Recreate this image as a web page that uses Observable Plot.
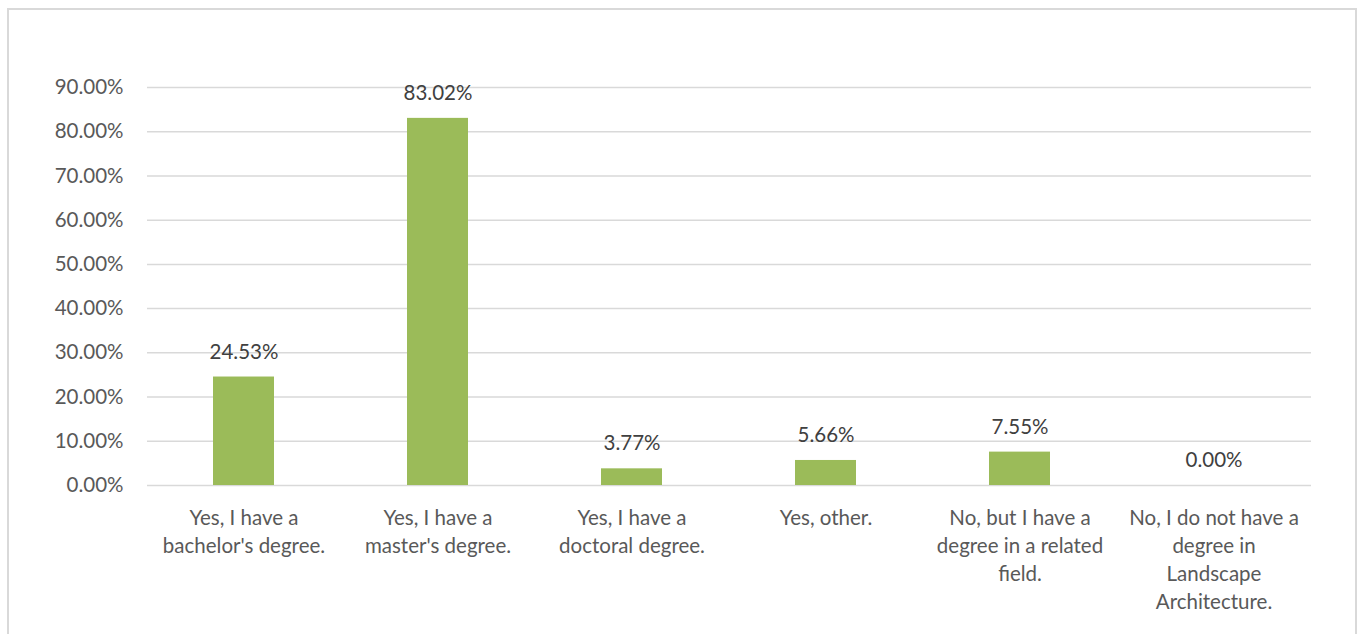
<!DOCTYPE html>
<html><head><meta charset="utf-8">
<script src="https://cdn.jsdelivr.net/npm/d3@7"></script>
<script src="https://cdn.jsdelivr.net/npm/@observablehq/plot@0.6"></script>
<style>
body{margin:0;background:#fff;width:1362px;height:634px;overflow:hidden;position:relative;font-family:Lato,"Open Sans",sans-serif;}
#frame{position:absolute;left:7px;top:8px;width:1350px;height:660px;border:2px solid #d9d9d9;box-sizing:border-box;}
#chart{position:absolute;left:0;top:0;}
</style></head><body>
<div id="frame"></div>
<div id="chart"></div>
<script>
const categories = ["bachelor","master","doctoral","other","related","none"];
const values = [0.2453, 0.8302, 0.0377, 0.0566, 0.0755, 0.0];
const tickLabels = [
  "Yes, I have a\nbachelor's degree.",
  "Yes, I have a\nmaster's degree.",
  "Yes, I have a\ndoctoral degree.",
  "Yes, other.",
  "No, but I have a\ndegree in a related\nfield.",
  "No, I do not have a\ndegree in\nLandscape\nArchitecture."
];
const yTicks = [0,0.1,0.2,0.3,0.4,0.5,0.6,0.7,0.8,0.9];
const data = categories.map((c,i)=>({cat:c, value:values[i]}));
const fmt = d3.format(".2%");
const FS = 20.5;

const chart = Plot.plot({
  width: 1362, height: 634,
  marginLeft: 147, marginRight: 51, marginTop: 87, marginBottom: 149,
  style: {fontFamily: 'Lato, "Open Sans", sans-serif', fontSize: FS + "px", color: "#595959", background: "transparent"},
  x: {domain: categories, paddingInner: 0.685, paddingOuter: 0.3425, label: null},
  y: {domain: [0, 0.9], label: null},
  marks: [
    Plot.gridY(yTicks, {stroke: "#d9d9d9", strokeOpacity: 1, strokeWidth: 1.5}),
    Plot.barY(data, {x: "cat", y: "value", fill: "#9bbb59"}),
    Plot.text(data, {x: "cat", y: "value", text: d => fmt(d.value), dy: -25, lineAnchor: "middle", fill: "#404040", fontSize: FS}),
    Plot.axisY({ticks: yTicks, tickFormat: fmt, tickSize: 0, tickPadding: 24, fontSize: FS, label: null}),
    Plot.axisX({tickFormat: d => tickLabels[categories.indexOf(d)], tickSize: 0, tickPadding: 20, fontSize: FS, lineHeight: 28 / FS, label: null})
  ]
});
document.getElementById("chart").appendChild(chart);
</script></body></html>
